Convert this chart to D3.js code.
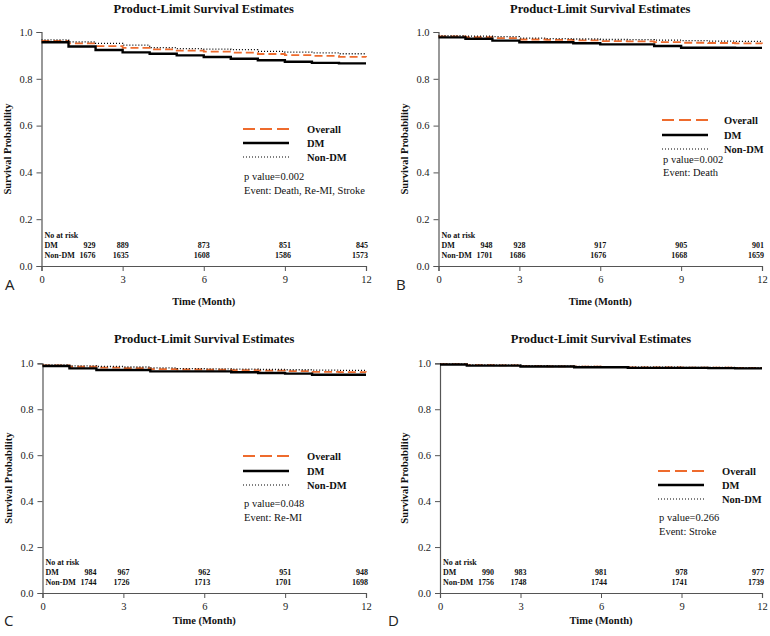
<!DOCTYPE html>
<html>
<head>
<meta charset="utf-8">
<script src="https://cdn.jsdelivr.net/npm/d3@7"></script>
<style>
  html, body { margin: 0; padding: 0; background: #fff; }
  svg { display: block; }
</style>
</head>
<body>
<svg id="chart" width="770" height="636"></svg>
<script>
// ---------------- DATA ----------------
const months = [0, 1, 2, 3, 4, 5, 6, 7, 8, 9, 10, 11, 12];
const xTicks = [0, 3, 6, 9, 12];
const yTicks = [0, 0.2, 0.4, 0.6, 0.8, 1.0];
const riskTimes = [0, 3, 6, 9, 12];
const seriesNames = ["Overall", "DM", "Non-DM"];
const panelLetters = ["A", "B", "C", "D"];
const pValues = ["0.002", "0.002", "0.048", "0.266"];
const eventLabels = ["Death, Re-MI, Stroke", "Death", "Re-MI", "Stroke"];

// Panel A: Death, Re-MI, Stroke
const overallA = [0.962, 0.951, 0.940, 0.932, 0.926, 0.920, 0.916, 0.912, 0.906, 0.901, 0.898, 0.894, 0.892];
const dmA      = [0.956, 0.938, 0.923, 0.913, 0.907, 0.900, 0.893, 0.886, 0.879, 0.873, 0.868, 0.866, 0.866];
const nonDmA   = [0.966, 0.958, 0.951, 0.944, 0.933, 0.929, 0.927, 0.925, 0.917, 0.914, 0.911, 0.907, 0.905];
const riskDmA    = [929, 889, 873, 851, 845];
const riskNonDmA = [1676, 1635, 1608, 1586, 1573];

// Panel B: Death
const overallB = [0.981, 0.978, 0.974, 0.968, 0.966, 0.964, 0.961, 0.960, 0.957, 0.954, 0.953, 0.951, 0.950];
const dmB      = [0.977, 0.971, 0.963, 0.956, 0.956, 0.952, 0.947, 0.947, 0.940, 0.933, 0.933, 0.932, 0.932];
const nonDmB   = [0.984, 0.982, 0.980, 0.974, 0.972, 0.970, 0.968, 0.967, 0.965, 0.963, 0.961, 0.960, 0.958];
const riskDmB    = [948, 928, 917, 905, 901];
const riskNonDmB = [1701, 1686, 1676, 1668, 1659];

// Panel C: Re-MI
const overallC = [0.991, 0.985, 0.981, 0.979, 0.975, 0.973, 0.972, 0.970, 0.968, 0.966, 0.963, 0.962, 0.961];
const dmC      = [0.988, 0.978, 0.971, 0.971, 0.965, 0.965, 0.965, 0.961, 0.958, 0.955, 0.950, 0.950, 0.950];
const nonDmC   = [0.993, 0.989, 0.986, 0.984, 0.980, 0.977, 0.976, 0.975, 0.973, 0.972, 0.970, 0.969, 0.968];
const riskDmC    = [984, 967, 962, 951, 948];
const riskNonDmC = [1744, 1726, 1713, 1701, 1698];

// Panel D: Stroke
const overallD = [0.996, 0.992, 0.991, 0.988, 0.987, 0.985, 0.984, 0.982, 0.982, 0.981, 0.981, 0.980, 0.980];
const dmD      = [0.995, 0.990, 0.990, 0.986, 0.986, 0.983, 0.983, 0.980, 0.980, 0.980, 0.979, 0.978, 0.978];
const nonDmD   = [0.996, 0.993, 0.992, 0.990, 0.988, 0.986, 0.985, 0.983, 0.983, 0.982, 0.982, 0.981, 0.981];
const riskDmD    = [990, 983, 981, 978, 977];
const riskNonDmD = [1756, 1748, 1744, 1741, 1739];

// ---------------- LAYOUT ----------------
const panels = [
  { x0: 41.5, x1: 366, yTop: 32, yBot: 266, series: [overallA, dmA, nonDmA], risk: [riskDmA, riskNonDmA],
    titleY: 13, xLabY: 305, letter: [5, 290], ylabX: 11,
    leg: { lx: 243, tx: 307, ys: [129, 143, 157], py: [180, 194] } },
  { x0: 438.5, x1: 762, yTop: 32, yBot: 266, series: [overallB, dmB, nonDmB], risk: [riskDmB, riskNonDmB],
    titleY: 13, xLabY: 305, letter: [396, 290], ylabX: 408,
    leg: { lx: 662, tx: 724, ys: [120, 135, 149], py: [163, 176] } },
  { x0: 42.5, x1: 366, yTop: 363.3, yBot: 593, series: [overallC, dmC, nonDmC], risk: [riskDmC, riskNonDmC],
    titleY: 343, xLabY: 624, letter: [4, 626], ylabX: 12,
    leg: { lx: 243, tx: 307, ys: [456, 471, 485], py: [507, 521] } },
  { x0: 440, x1: 762, yTop: 363.3, yBot: 593, series: [overallD, dmD, nonDmD], risk: [riskDmD, riskNonDmD],
    titleY: 343, xLabY: 624, letter: [388, 626], ylabX: 408,
    leg: { lx: 658, tx: 722, ys: [471, 485, 499], py: [521, 535] } }
];

const ORANGE = "#EE6B2D";
const styles = [
  { stroke: ORANGE, width: 1.8, dash: "8,4", legDash: "12,5", legWidth: 1.8 },
  { stroke: "#000", width: 2.4, dash: null, legDash: null, legWidth: 2.6 },
  { stroke: "#000", width: 1.3, dash: "1,2", legDash: "1,2", legWidth: 1.2 }
];
const SERIF = "'Liberation Serif', 'Times New Roman', serif";

const svg = d3.select("#chart");

panels.forEach((p, i) => {
  const g = svg.append("g");
  const x = d3.scaleLinear().domain([0, 12]).range([p.x0, p.x1]);
  const y = d3.scaleLinear().domain([0, 1]).range([p.yBot, p.yTop]);

  // Title
  g.append("text")
    .attr("x", (p.x0 + p.x1) / 2).attr("y", p.titleY)
    .attr("text-anchor", "middle")
    .style("font-family", SERIF).style("font-weight", "bold").style("font-size", "12.5px")
    .attr("fill", "#111")
    .text("Product-Limit Survival Estimates");

  // Axes
  const xAxis = d3.axisBottom(x).tickValues(xTicks).tickSize(5).tickPadding(5).tickFormat(d3.format("d"));
  const yAxis = d3.axisLeft(y).tickValues(yTicks).tickSize(5).tickPadding(4).tickFormat(d3.format(".1f"));
  const gx = g.append("g").attr("transform", `translate(0,${p.yBot})`).call(xAxis);
  const gy = g.append("g").attr("transform", `translate(${p.x0},0)`).call(yAxis);
  [gx, gy].forEach(a => {
    a.select(".domain").attr("stroke", "#555").attr("stroke-width", 1.2);
    a.selectAll(".tick line").attr("stroke", "#555");
    a.selectAll(".tick text").style("font-family", SERIF).style("font-size", "10.5px").attr("fill", "#222");
  });

  // Axis labels
  g.append("text")
    .attr("x", (p.x0 + p.x1) / 2).attr("y", p.xLabY)
    .attr("text-anchor", "middle")
    .style("font-family", SERIF).style("font-weight", "bold").style("font-size", "10.5px")
    .attr("fill", "#111")
    .text("Time (Month)");
  g.append("text")
    .attr("transform", `translate(${p.ylabX},${(p.yTop + p.yBot) / 2}) rotate(-90)`)
    .attr("text-anchor", "middle")
    .style("font-family", SERIF).style("font-weight", "bold").style("font-size", "10.5px")
    .attr("fill", "#111")
    .text("Survival Probability");

  // Panel letter
  g.append("text")
    .attr("x", p.letter[0]).attr("y", p.letter[1])
    .style("font-family", "'Open Sans', 'Liberation Sans', sans-serif").style("font-size", "15px")
    .attr("fill", "#222")
    .text(panelLetters[i]);

  // Curves
  const line = d3.line().x((d, k) => x(months[k])).y(d => y(d)).curve(d3.curveStepAfter);
  p.series.forEach((s, k) => {
    const st = styles[k];
    g.append("path")
      .datum(s)
      .attr("d", line)
      .attr("fill", "none")
      .attr("stroke", st.stroke)
      .attr("stroke-width", st.width)
      .attr("stroke-dasharray", st.dash);
  });

  // Legend
  seriesNames.forEach((name, k) => {
    const st = styles[k];
    const ly = p.leg.ys[k];
    g.append("line")
      .attr("x1", p.leg.lx).attr("x2", p.leg.lx + 46)
      .attr("y1", ly).attr("y2", ly)
      .attr("stroke", st.stroke).attr("stroke-width", st.legWidth)
      .attr("stroke-dasharray", st.legDash);
    g.append("text")
      .attr("x", p.leg.tx).attr("y", ly + 3.5)
      .style("font-family", SERIF).style("font-weight", "bold").style("font-size", "10.5px")
      .attr("fill", "#111")
      .text(name);
  });
  g.append("text")
    .attr("x", p.leg.lx + 1).attr("y", p.leg.py[0])
    .style("font-family", SERIF).style("font-size", "10.5px").attr("fill", "#111")
    .text("p value=" + pValues[i]);
  g.append("text")
    .attr("x", p.leg.lx + 1).attr("y", p.leg.py[1])
    .style("font-family", SERIF).style("font-size", "10.5px").attr("fill", "#111")
    .text("Event: " + eventLabels[i]);

  // Number at risk table
  const tbl = g.append("g")
    .style("font-family", SERIF).style("font-weight", "bold").style("font-size", "8px")
    .attr("fill", "#111");
  tbl.append("text").attr("x", p.x0 + 3).attr("y", p.yBot - 28).text("No at risk");
  tbl.append("text").attr("x", p.x0 + 3).attr("y", p.yBot - 18).text("DM");
  tbl.append("text").attr("x", p.x0 + 3).attr("y", p.yBot - 8).text("Non-DM");
  p.risk.forEach((row, r) => {
    row.forEach((v, c) => {
      const t = riskTimes[c];
      const xp = t === 0 ? x(t) + 54 : (t === 12 ? x(t) + 2 : x(t) + 6);
      tbl.append("text")
        .attr("x", xp).attr("y", p.yBot - 18 + r * 10)
        .attr("text-anchor", "end")
        .text(v);
    });
  });
});
</script>
</body>
</html>
